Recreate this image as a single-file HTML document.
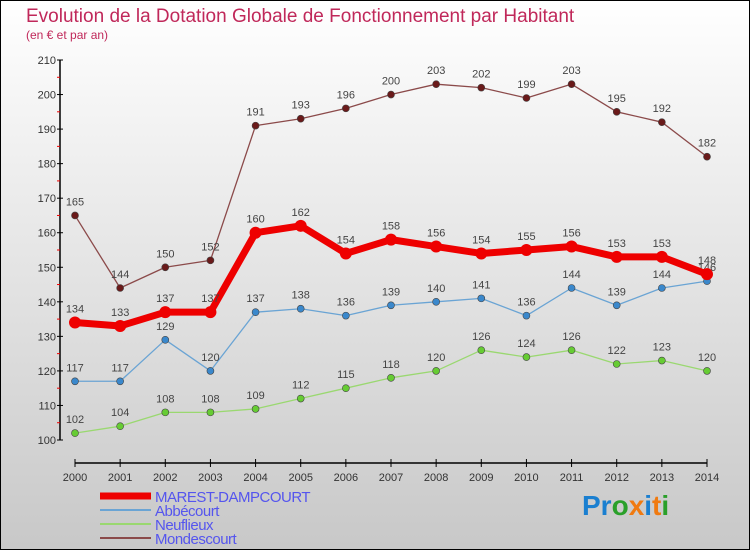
<!DOCTYPE html>
<html><head><meta charset="utf-8"><style>
html,body{margin:0;padding:0}
body{width:750px;height:550px;overflow:hidden;font-family:"Liberation Sans",sans-serif}
svg text{font-family:"Liberation Sans",sans-serif}
</style></head><body>
<svg id="chart" width="750" height="550" xmlns="http://www.w3.org/2000/svg">
<defs><linearGradient id="bg" x1="0" y1="0" x2="0" y2="1"><stop offset="0" stop-color="#ffffff"/><stop offset="1" stop-color="#c8c8c8"/></linearGradient></defs>
<rect x="0.5" y="0.5" width="749" height="549" fill="url(#bg)" stroke="#000"/>
<text x="26" y="22" font-size="19" fill="#c0285a">Evolution de la Dotation Globale de Fonctionnement par Habitant</text>
<text x="26" y="39" font-size="12" fill="#c0285a">(en € et par an)</text>
<g id="axes"></g><g id="series"></g><g id="legend"></g>
<text x="582" y="515" font-size="28" font-weight="bold"><tspan fill="#1a7fd0">Pr</tspan><tspan fill="#2aa02a">o</tspan><tspan fill="#f07a10">x</tspan><tspan fill="#1a7fd0">i</tspan><tspan fill="#f07a10">t</tspan><tspan fill="#2aa02a">i</tspan></text>
</svg>
<script>
const years=[2000,2001,2002,2003,2004,2005,2006,2007,2008,2009,2010,2011,2012,2013,2014];
const yTicks=[100,110,120,130,140,150,160,170,180,190,200,210];
const marest=[134,133,137,137,160,162,154,158,156,154,155,156,153,153,148];
const abbecourt=[117,117,129,120,137,138,136,139,140,141,136,144,139,144,146];
const neuflieux=[102,104,108,108,109,112,115,118,120,126,124,126,122,123,120];
const mondescourt=[165,144,150,152,191,193,196,200,203,202,199,203,195,192,182];
const NS="http://www.w3.org/2000/svg";
const X=i=>75+i*(632/14);
const Y=v=>440-(v-100)*(380/110);
function mk(tag,attrs,parent){const e=document.createElementNS(NS,tag);for(const k in attrs)e.setAttribute(k,attrs[k]);parent.appendChild(e);return e;}
const axes=document.getElementById('axes');
let a=mk('line',{x1:60,y1:Y(210),x2:60,y2:Y(100),stroke:'#000','stroke-width':1.5},axes);


yTicks.forEach((t,i)=>{
 const tk=mk('line',{x1:57,x2:63,y1:Y(t),y2:Y(t),stroke:'#000'},axes);
 
 
 if(i<yTicks.length-1){const m=mk('line',{x1:57,x2:60,y1:Y(t+5),y2:Y(t+5),stroke:'#e00'},axes);
 
 }
 const lb=mk('text',{x:56,y:Y(t)+4,'text-anchor':'end','font-size':11,fill:'#333'},axes);lb.textContent=t;
 
 
});
a=mk('line',{x1:X(0),y1:463,x2:X(14),y2:463,stroke:'#000','stroke-width':1.5},axes);


years.forEach((yr,i)=>{
 const tk=mk('line',{x1:X(i),x2:X(i),y1:459,y2:467,stroke:'#000'},axes);
 
 
 const lb=mk('text',{x:X(i),y:481,'text-anchor':'middle','font-size':11,fill:'#333'},axes);lb.textContent=yr;
 
 
});
const sg=document.getElementById('series');
const series=[
 {name:'mondescourt',data:mondescourt,color:'#8b4a4a',dot:'#6a1a1a',w:1.3,r:3.5},
 {name:'neuflieux',data:neuflieux,color:'#9ad870',dot:'#66cc33',w:1.3,r:3.5},
 {name:'abbecourt',data:abbecourt,color:'#6aa4d4',dot:'#3a88cc',w:1.3,r:3.5},
 {name:'marest-dampcourt',data:marest,color:'#ee0000',dot:'#ee0000',w:7,r:6}
];
series.forEach(s=>{
 const g=mk('g',{},sg);
 
 
 const pts=s.data.map((v,i)=>X(i)+','+Y(v)).join(' ');
 const pl=mk('polyline',{points:pts,fill:'none',stroke:s.color,'stroke-width':s.w,'stroke-linejoin':'round'},g);
 
 
 s.data.forEach((v,i)=>{
  const c=mk('circle',{cx:X(i),cy:Y(v),r:s.r,fill:s.dot,stroke:s.name==='marest-dampcourt'?'none':'#444','stroke-width':0.6},g);
  
  
  const t=mk('text',{x:X(i),y:Y(v)-10,'text-anchor':'middle','font-size':11,fill:'#444'},g);t.textContent=v;
  
  
 });
});
const lg=document.getElementById('legend');
const leg=[['MAREST-DAMPCOURT','#ee0000',7],['Abbécourt','#6aa4d4',2],['Neuflieux','#9ad870',2],['Mondescourt','#8b4a4a',2]];
leg.forEach((l,i)=>{
 const y=496+i*14;
 const ln=mk('line',{x1:100,x2:151,y1:y,y2:y,stroke:l[1],'stroke-width':l[2]},lg);
 
 
 const t=mk('text',{x:155,y:y+6,'font-size':15,fill:'#5555ee','letter-spacing':'-0.5'},lg);t.textContent=l[0];
 
 
});
</script>
</body></html>
